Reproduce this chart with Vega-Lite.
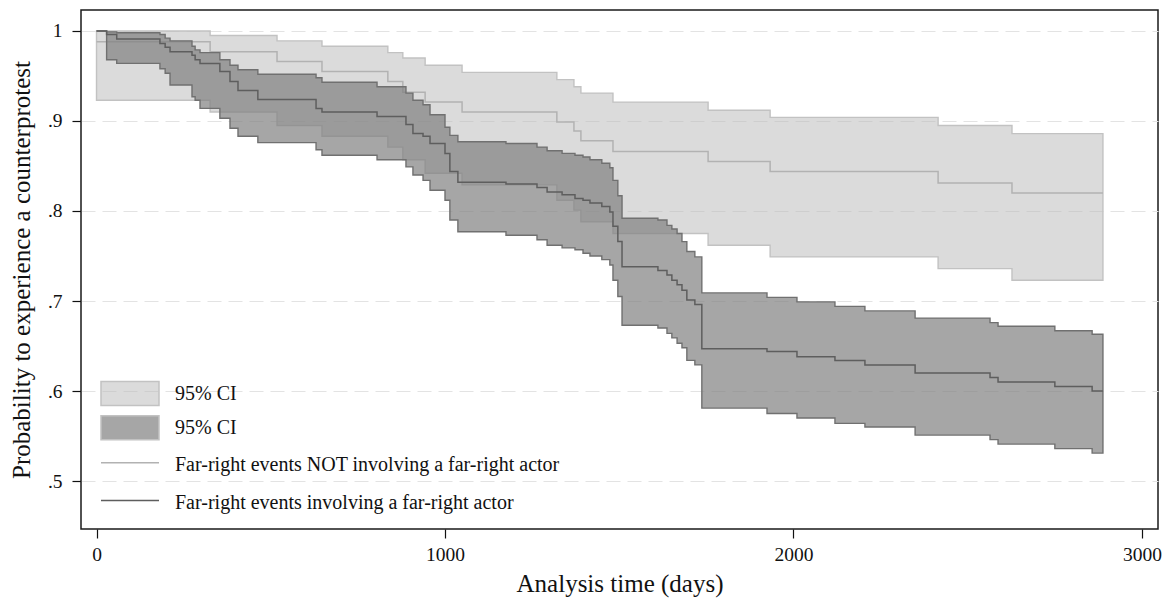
{
  "$schema": "https://vega.github.io/schema/vega-lite/v6.json",
  "width": 1077,
  "height": 519,
  "autosize": "none",
  "padding": {"left": 81, "top": 10, "right": 9, "bottom": 72},
  "background": "white",
  "config": {
    "font": "Liberation Serif",
    "view": {"stroke": "#1a1a1a", "strokeWidth": 1.5},
    "axis": {
      "domain": false,
      "labelFont": "Liberation Serif",
      "titleFont": "Liberation Serif",
      "labelColor": "#111111",
      "titleColor": "#111111",
      "tickColor": "#111111",
      "labelFontSize": 19.5,
      "titleFontSize": 25,
      "titleFontWeight": "normal",
      "tickSize": 9,
      "tickWidth": 1.2
    },
    "legend": {
      "labelFont": "Liberation Serif",
      "labelFontSize": 20,
      "labelColor": "#111111",
      "labelLimit": 600,
      "padding": 0
    }
  },
  "data": {
    "values": [
      {"group": "not", "t": 0, "s": 0.988, "lo": 0.923, "hi": 1.0},
      {"group": "not", "t": 326, "s": 0.977, "lo": 0.91, "hi": 0.995},
      {"group": "not", "t": 518, "s": 0.966, "lo": 0.895, "hi": 0.989},
      {"group": "not", "t": 647, "s": 0.955, "lo": 0.883, "hi": 0.983},
      {"group": "not", "t": 836, "s": 0.944, "lo": 0.871, "hi": 0.976},
      {"group": "not", "t": 879, "s": 0.932, "lo": 0.857, "hi": 0.97},
      {"group": "not", "t": 943, "s": 0.921, "lo": 0.842, "hi": 0.962},
      {"group": "not", "t": 1049, "s": 0.91, "lo": 0.829, "hi": 0.954},
      {"group": "not", "t": 1321, "s": 0.899, "lo": 0.812, "hi": 0.946},
      {"group": "not", "t": 1370, "s": 0.889, "lo": 0.801, "hi": 0.938},
      {"group": "not", "t": 1390, "s": 0.878, "lo": 0.788, "hi": 0.931},
      {"group": "not", "t": 1482, "s": 0.866, "lo": 0.775, "hi": 0.921},
      {"group": "not", "t": 1755, "s": 0.855, "lo": 0.762, "hi": 0.912},
      {"group": "not", "t": 1933, "s": 0.844, "lo": 0.749, "hi": 0.904},
      {"group": "not", "t": 2415, "s": 0.831, "lo": 0.736, "hi": 0.895},
      {"group": "not", "t": 2627, "s": 0.82, "lo": 0.723, "hi": 0.886},
      {"group": "not", "t": 2888, "s": 0.82, "lo": 0.723, "hi": 0.886},
      {"group": "inv", "t": 0, "s": 1.0, "lo": 1.0, "hi": 1.0},
      {"group": "inv", "t": 29, "s": 0.996, "lo": 0.968, "hi": 0.999},
      {"group": "inv", "t": 58, "s": 0.991, "lo": 0.964, "hi": 0.998},
      {"group": "inv", "t": 182, "s": 0.986, "lo": 0.958, "hi": 0.996},
      {"group": "inv", "t": 197, "s": 0.982, "lo": 0.953, "hi": 0.992},
      {"group": "inv", "t": 211, "s": 0.977, "lo": 0.94, "hi": 0.989},
      {"group": "inv", "t": 274, "s": 0.973, "lo": 0.927, "hi": 0.983},
      {"group": "inv", "t": 283, "s": 0.968, "lo": 0.923, "hi": 0.979},
      {"group": "inv", "t": 297, "s": 0.964, "lo": 0.914, "hi": 0.976},
      {"group": "inv", "t": 354, "s": 0.955, "lo": 0.903, "hi": 0.968},
      {"group": "inv", "t": 383, "s": 0.944, "lo": 0.892, "hi": 0.962},
      {"group": "inv", "t": 406, "s": 0.934, "lo": 0.883, "hi": 0.957},
      {"group": "inv", "t": 463, "s": 0.924, "lo": 0.876, "hi": 0.952},
      {"group": "inv", "t": 630, "s": 0.914, "lo": 0.868, "hi": 0.948},
      {"group": "inv", "t": 647, "s": 0.91, "lo": 0.862, "hi": 0.943},
      {"group": "inv", "t": 805, "s": 0.905, "lo": 0.857, "hi": 0.938},
      {"group": "inv", "t": 888, "s": 0.896, "lo": 0.849, "hi": 0.931},
      {"group": "inv", "t": 908, "s": 0.886, "lo": 0.84, "hi": 0.923},
      {"group": "inv", "t": 937, "s": 0.883, "lo": 0.834, "hi": 0.918},
      {"group": "inv", "t": 957, "s": 0.875, "lo": 0.823, "hi": 0.907},
      {"group": "inv", "t": 1000, "s": 0.864, "lo": 0.812, "hi": 0.893},
      {"group": "inv", "t": 1014, "s": 0.844, "lo": 0.79, "hi": 0.884},
      {"group": "inv", "t": 1037, "s": 0.832, "lo": 0.777, "hi": 0.877},
      {"group": "inv", "t": 1175, "s": 0.83, "lo": 0.773, "hi": 0.875},
      {"group": "inv", "t": 1264, "s": 0.826, "lo": 0.768, "hi": 0.871},
      {"group": "inv", "t": 1293, "s": 0.821, "lo": 0.762, "hi": 0.867},
      {"group": "inv", "t": 1336, "s": 0.818, "lo": 0.759, "hi": 0.864},
      {"group": "inv", "t": 1373, "s": 0.814, "lo": 0.757, "hi": 0.862},
      {"group": "inv", "t": 1396, "s": 0.812, "lo": 0.753, "hi": 0.86},
      {"group": "inv", "t": 1416, "s": 0.809, "lo": 0.75, "hi": 0.857},
      {"group": "inv", "t": 1450, "s": 0.805, "lo": 0.746, "hi": 0.853},
      {"group": "inv", "t": 1473, "s": 0.799, "lo": 0.74, "hi": 0.848},
      {"group": "inv", "t": 1482, "s": 0.783, "lo": 0.723, "hi": 0.834},
      {"group": "inv", "t": 1496, "s": 0.766, "lo": 0.705, "hi": 0.817},
      {"group": "inv", "t": 1508, "s": 0.738, "lo": 0.673, "hi": 0.792},
      {"group": "inv", "t": 1611, "s": 0.734, "lo": 0.67, "hi": 0.79},
      {"group": "inv", "t": 1637, "s": 0.729, "lo": 0.664, "hi": 0.784},
      {"group": "inv", "t": 1651, "s": 0.723, "lo": 0.659, "hi": 0.78},
      {"group": "inv", "t": 1666, "s": 0.718, "lo": 0.653, "hi": 0.775},
      {"group": "inv", "t": 1680, "s": 0.712, "lo": 0.648, "hi": 0.766},
      {"group": "inv", "t": 1694, "s": 0.701, "lo": 0.634, "hi": 0.755},
      {"group": "inv", "t": 1717, "s": 0.696, "lo": 0.629, "hi": 0.749},
      {"group": "inv", "t": 1737, "s": 0.647, "lo": 0.581, "hi": 0.709},
      {"group": "inv", "t": 1924, "s": 0.644, "lo": 0.575, "hi": 0.704},
      {"group": "inv", "t": 2010, "s": 0.638, "lo": 0.57, "hi": 0.699},
      {"group": "inv", "t": 2119, "s": 0.634, "lo": 0.564, "hi": 0.694},
      {"group": "inv", "t": 2205, "s": 0.629, "lo": 0.56, "hi": 0.689},
      {"group": "inv", "t": 2349, "s": 0.62, "lo": 0.551, "hi": 0.681},
      {"group": "inv", "t": 2564, "s": 0.615, "lo": 0.546, "hi": 0.676},
      {"group": "inv", "t": 2587, "s": 0.61, "lo": 0.541, "hi": 0.672},
      {"group": "inv", "t": 2750, "s": 0.605, "lo": 0.536, "hi": 0.667},
      {"group": "inv", "t": 2857, "s": 0.6, "lo": 0.531, "hi": 0.663},
      {"group": "inv", "t": 2888, "s": 0.6, "lo": 0.531, "hi": 0.663}
    ]
  },
  "encoding": {
    "x": {
      "field": "t",
      "type": "quantitative",
      "scale": {"domain": [-44.5, 3046], "nice": false, "zero": false},
      "axis": {
        "values": [0, 1000, 2000, 3000],
        "format": "d",
        "grid": false,
        "title": "Analysis time (days)",
        "labelPadding": 7,
        "titlePadding": 8
      }
    }
  },
  "layer": [
    {
      "transform": [{"filter": "datum.group === 'not'"}],
      "mark": {"type": "area", "interpolate": "step-after", "stroke": "#c2c2c2", "strokeWidth": 1.4},
      "encoding": {
        "y": {
          "field": "lo",
          "type": "quantitative",
          "scale": {"domain": [0.4467, 1.0233], "nice": false, "zero": false},
          "axis": {
            "values": [0.5, 0.6, 0.7, 0.8, 0.9, 1],
            "labelExpr": "datum.value >= 1 ? '1' : replace(format(datum.value, '.1f'), '0.', '.')",
            "grid": true,
            "gridColor": "#e3e3e3",
            "gridDash": [14, 7],
            "gridWidth": 1.2,
            "title": "Probability to experience a counterprotest",
            "labelPadding": 10,
            "titlePadding": 13
          }
        },
        "y2": {"field": "hi"},
        "fill": {
          "datum": "ci_not",
          "type": "nominal",
          "scale": {"domain": ["ci_not", "ci_inv"], "range": ["rgba(190,190,190,0.55)", "rgba(128,128,128,0.7)"]},
          "legend": {
            "title": null,
            "orient": "none",
            "legendX": 36,
            "legendY": 370.5,
            "labelExpr": "'95% CI'",
            "symbolType": "M-2.417,-1H2.417V1H-2.417Z",
            "symbolSize": 576,
            "symbolStrokeWidth": 1.5,
            "labelOffset": 32,
            "rowPadding": 4.3,
            "encode": {
              "symbols": {
                "update": {
                  "stroke": {"signal": "datum.value === 'ci_not' ? '#c6c6c6' : '#7c7c7c'"}
                }
              },
              "labels": {
                "update": {"dy": {"value": 4}}
              }
            }
          }
        }
      }
    },
    {
      "transform": [{"filter": "datum.group === 'not'"}],
      "mark": {"type": "line", "interpolate": "step-after", "strokeWidth": 1.5},
      "encoding": {
        "y": {"field": "s", "type": "quantitative"},
        "stroke": {
          "datum": "not",
          "type": "nominal",
          "scale": {"domain": ["not", "inv"], "range": ["#b2b2b2", "#5e5e5e"]},
          "legend": {
            "title": null,
            "orient": "none",
            "legendX": 36,
            "legendY": 439.7,
            "labelExpr": "datum.value === 'not' ? 'Far-right events NOT involving a far-right actor' : 'Far-right events involving a far-right actor'",
            "symbolType": "M-2.417,0H2.417",
            "symbolSize": 576,
            "symbolStrokeWidth": 1.5,
            "labelOffset": 32,
            "rowPadding": 12.8,
            "encode": {
              "labels": {
                "update": {"dy": {"value": 2}}
              }
            }
          }
        }
      }
    },
    {
      "transform": [{"filter": "datum.group === 'inv'"}],
      "mark": {"type": "area", "interpolate": "step-after", "stroke": "#707070", "strokeWidth": 1.4},
      "encoding": {
        "y": {"field": "lo", "type": "quantitative"},
        "y2": {"field": "hi"},
        "fill": {"datum": "ci_inv", "type": "nominal"}
      }
    },
    {
      "transform": [{"filter": "datum.group === 'inv'"}],
      "mark": {"type": "line", "interpolate": "step-after", "strokeWidth": 1.5},
      "encoding": {
        "y": {"field": "s", "type": "quantitative"},
        "stroke": {"datum": "inv", "type": "nominal"}
      }
    }
  ]
}
